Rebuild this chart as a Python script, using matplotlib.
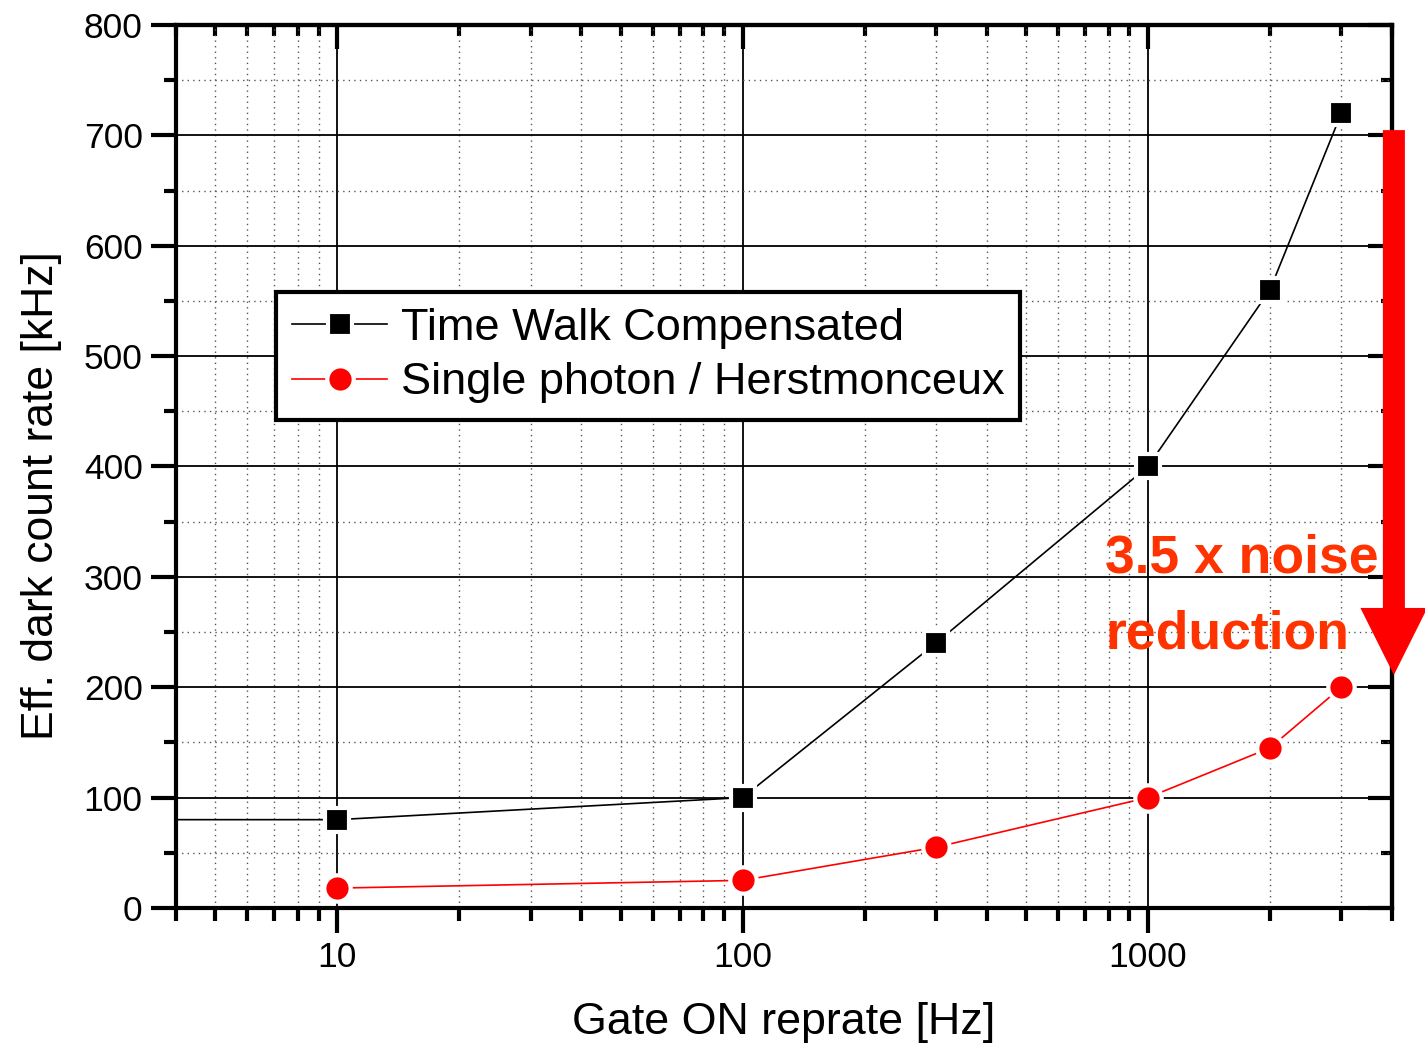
import matplotlib
matplotlib.use("Agg")
import matplotlib.pyplot as plt
from matplotlib.patches import FancyArrow
from matplotlib.ticker import LogLocator, MultipleLocator, NullFormatter, FixedLocator, FixedFormatter

plt.rcParams['font.family'] = ['Liberation Sans', 'DejaVu Sans']

# data
tw_x = [1, 10, 100, 300, 1000, 2000, 3000]
tw_y = [80, 80, 100, 240, 400, 560, 720]
sp_x = [10, 100, 300, 1000, 2000, 3000]
sp_y = [18, 25, 55, 100, 145, 200]
xticks = [10, 100, 1000]
xtick_labels = ["10", "100", "1000"]

fig = plt.figure(figsize=(14.25, 10.47), dpi=100)
ax = fig.add_axes([0.1235, 0.1328, 0.8533, 0.8433])

# lines with a small white gap around the markers
ax.plot(tw_x, tw_y, color='black', lw=1.2, marker='s', ms=17,
        mfc='black', mec='white', mew=3, zorder=3, label='Time Walk Compensated')
ax.plot(sp_x, sp_y, color='red', lw=1.2, marker='o', ms=19,
        mfc='red', mec='white', mew=3, zorder=3, label='Single photon / Herstmonceux')

ax.set_xscale('log')
ax.set_xlim(4, 4000)
ax.set_ylim(0, 800)

ax.xaxis.set_major_locator(FixedLocator(xticks))
ax.xaxis.set_major_formatter(FixedFormatter(xtick_labels))
ax.xaxis.set_minor_locator(LogLocator(base=10, subs=range(2, 10), numticks=20))
ax.xaxis.set_minor_formatter(NullFormatter())
ax.yaxis.set_major_locator(MultipleLocator(100))
ax.yaxis.set_minor_locator(MultipleLocator(50))

ax.grid(which='major', color='black', lw=1.3, ls='-')
ax.grid(which='minor', color='#555555', lw=1.0, ls=(0, (1, 3)))
ax.set_axisbelow(True)

for s in ax.spines.values():
    s.set_linewidth(3)

ax.tick_params(which='both', direction='out', width=3, labelsize=25.5, top=False, right=False)
ax.tick_params(which='major', length=18, pad=6)
ax.tick_params(which='minor', length=9)

# inward ticks on top / right
ax_t = ax.secondary_xaxis('top')
ax_t.xaxis.set_major_locator(FixedLocator(xticks))
ax_t.xaxis.set_minor_locator(LogLocator(base=10, subs=range(2, 10), numticks=20))
ax_t.tick_params(which='both', direction='in', width=3, labeltop=False)
ax_t.tick_params(which='major', length=17)
ax_t.tick_params(which='minor', length=8)
ax_t.spines['top'].set_linewidth(3)
ax_r = ax.secondary_yaxis('right')
ax_r.yaxis.set_major_locator(MultipleLocator(100))
ax_r.yaxis.set_minor_locator(MultipleLocator(50))
ax_r.tick_params(which='both', direction='in', width=3, labelright=False)
ax_r.tick_params(which='major', length=17)
ax_r.tick_params(which='minor', length=8)
ax_r.spines['right'].set_linewidth(3)

ax.set_xlabel('Gate ON reprate [Hz]', fontsize=32.3, labelpad=20)
ax.set_ylabel('Eff. dark count rate [kHz]', fontsize=32)
ax.yaxis.set_label_coords(-0.094, 0.4666)

leg = ax.legend(loc='upper left', bbox_to_anchor=(0.0822, 0.698), fontsize=32.5,
                frameon=True, fancybox=False, edgecolor='black', framealpha=1,
                handlelength=2.1, handletextpad=0.3, borderpad=0.36, labelspacing=0.3,
                borderaxespad=0)
leg.get_frame().set_linewidth(3)

# annotation
ax.text(0.764, 0.3794, '3.5 x noise', transform=ax.transAxes, color='#FF3300',
        fontsize=38.5, fontweight='bold', va='baseline', zorder=5)
ax.text(0.764, 0.2944, 'reduction', transform=ax.transAxes, color='#FF3300',
        fontsize=38.5, fontweight='bold', va='baseline', zorder=5)

arrow = FancyArrow(1.0016, 0.881, 0, 0.2639 - 0.881, width=0.0181, head_width=0.0551,
                   head_length=0.0759, length_includes_head=True, color='red',
                   transform=ax.transAxes, clip_on=False, zorder=6, lw=0)
ax.add_patch(arrow)

fig.savefig('out.png', dpi=100)
